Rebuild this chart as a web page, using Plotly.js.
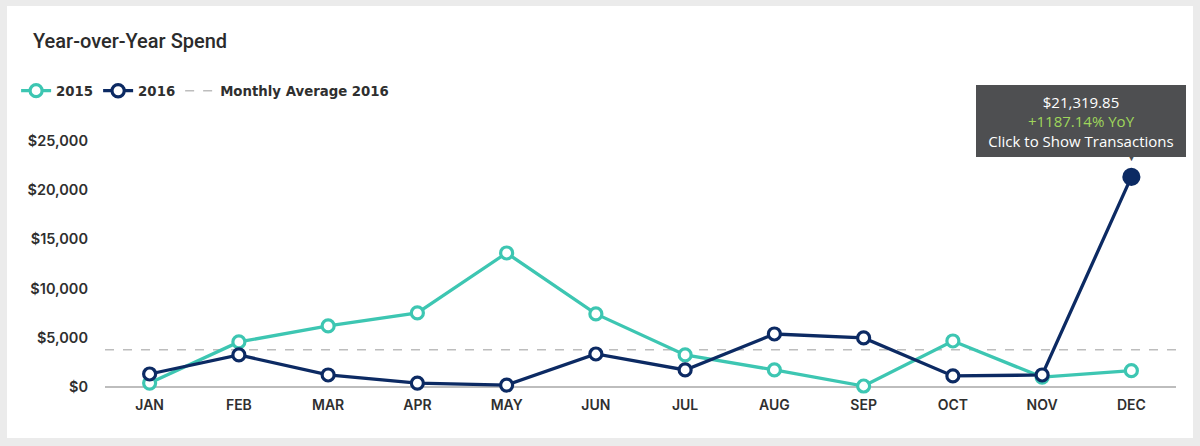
<!DOCTYPE html>
<html>
<head>
<meta charset="utf-8">
<script src="https://cdn.plot.ly/plotly-3.0.1.min.js"></script>
<style>
  html, body { margin: 0; padding: 0; background: #ebebeb; }
  #card { position: absolute; left: 7px; top: 6px; width: 1186px; height: 432px; background: #ffffff; }
  #chart { position: absolute; left: 0; top: 0; width: 1200px; height: 446px; }
</style>
</head>
<body>
<div id="card"></div>
<div id="chart"></div>
<script>
const months = ['JAN','FEB','MAR','APR','MAY','JUN','JUL','AUG','SEP','OCT','NOV','DEC'];
const spend2015 = [400, 4570, 6200, 7520, 13600, 7420, 3250, 1730, 100, 4670, 1000, 1656];
const spend2016 = [1320, 3250, 1220, 400, 200, 3350, 1730, 5380, 4980, 1120, 1220, 21319.85];
const monthlyAverage2016 = 3790;
const yTicks = [0, 5000, 10000, 15000, 20000, 25000];
const yTickLabels = ['$0', '$5,000', '$10,000', '$15,000', '$20,000', '$25,000'];
const tooltipValue = '$21,319.85';
const tooltipYoY = '+1187.14% YoY';
const tooltipAction = 'Click to Show Transactions';

const teal = '#3dc6b2';
const navy = '#0c2a63';
const hl = months.length - 1;

const fill2016 = spend2016.map((v, i) => i === hl ? navy : '#ffffff');
const size2016 = spend2016.map((v, i) => i === hl ? 15 : 12);

const traces = [
  {
    x: months, y: spend2015, name: '2015', type: 'scatter', mode: 'lines+markers',
    line: { color: teal, width: 3.3 },
    marker: { symbol: 'circle', size: 12, color: '#ffffff', opacity: 1, line: { color: teal, width: 3.2 } },
    cliponaxis: false
  },
  {
    x: months, y: spend2016, name: '2016', type: 'scatter', mode: 'lines+markers',
    line: { color: navy, width: 3.3 },
    marker: { symbol: 'circle', size: size2016, color: fill2016, opacity: 1, line: { color: navy, width: 3.2 } },
    cliponaxis: false
  }
];

const layout = {
  width: 1200, height: 446,
  paper_bgcolor: 'rgba(0,0,0,0)',
  plot_bgcolor: 'rgba(0,0,0,0)',
  margin: { l: 105, r: 24, t: 116, b: 59 },
  title: {
    text: 'Year-over-Year Spend',
    xref: 'container', yref: 'container',
    x: 0.0275, xanchor: 'left', y: 0.908, yanchor: 'middle',
    font: { family: 'Roboto, Liberation Sans, sans-serif', size: 20, color: '#2b2b2b', weight: 500 }
  },
  showlegend: true,
  legend: {
    orientation: 'h', x: -0.083, xanchor: 'left', y: 1.092, yanchor: 'middle',
    font: { family: 'DejaVu Sans, sans-serif', size: 13.3, color: '#2f2f2f', weight: 'bold' },
    itemwidth: 30, tracegroupgap: 0, bgcolor: 'rgba(0,0,0,0)'
  },
  xaxis: {
    type: 'category', range: [-0.5, 11.5],
    showgrid: false, zeroline: false, showline: false,
    ticks: '', ticklabelstandoff: 8,
    tickfont: { family: 'Inter, sans-serif', size: 14, color: '#2f2f2f', weight: 600 },
    fixedrange: true
  },
  yaxis: {
    range: [0, 27500],
    tickvals: yTicks, ticktext: yTickLabels,
    showgrid: false, zeroline: true, zerolinecolor: '#bdbdbd', zerolinewidth: 1.5,
    showline: false, ticks: '', ticklabelstandoff: 16,
    tickfont: { family: 'Inter, sans-serif', size: 14.5, color: '#2f2f2f', weight: 600 },
    fixedrange: true
  },
  shapes: [
    {
      type: 'line', xref: 'paper', x0: 0, x1: 1, yref: 'y', y0: monthlyAverage2016, y1: monthlyAverage2016,
      line: { color: '#bdbdbd', width: 1.5, dash: 'dash' },
      showlegend: true, name: 'Monthly Average 2016', layer: 'below'
    }
  ],
  annotations: [
    {
      x: months[hl], y: spend2016[hl], xref: 'x', yref: 'y',
      xshift: -50, yshift: 56, showarrow: false,
      xanchor: 'center', yanchor: 'middle',
      text: tooltipValue + '<br><span style="color:#9fd65b">' + tooltipYoY + '</span><br>' + tooltipAction,
      align: 'center',
      bgcolor: '#4e4f51', bordercolor: '#4e4f51', borderpad: 6,
      width: 196, height: 58,
      font: { family: 'Open Sans, sans-serif', size: 15, color: '#ffffff' }
    },
    {
      x: months[hl], y: spend2016[hl], xref: 'x', yref: 'y',
      yshift: 20, showarrow: false, xanchor: 'center', yanchor: 'middle',
      text: '▼', font: { size: 11, color: '#4e4f51' }
    }
  ]
};

Plotly.newPlot('chart', traces, layout, { displayModeBar: false, staticPlot: true });
</script>
</body>
</html>
